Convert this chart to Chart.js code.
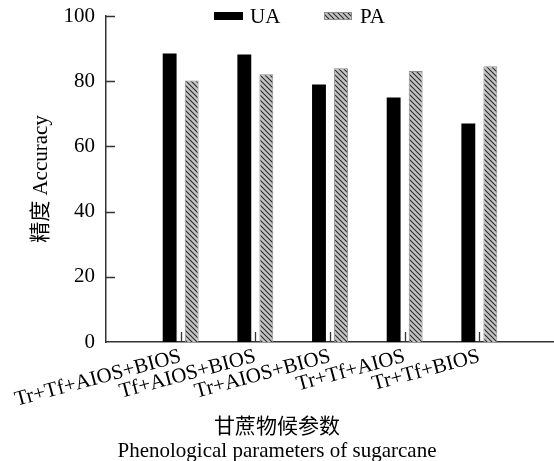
<!DOCTYPE html>
<html>
<head>
<meta charset="utf-8">
<script src="https://cdn.jsdelivr.net/npm/chart.js@4"></script>
<style>
  html, body { margin: 0; padding: 0; background: #fff; }
  #wrap { width: 554px; height: 461px; }
</style>
</head>
<body>
<div id="wrap"><canvas id="chart" width="554" height="461"></canvas></div>
<script>
const categories = ['Tr+Tf+AIOS+BIOS', 'Tf+AIOS+BIOS', 'Tr+AIOS+BIOS', 'Tr+Tf+AIOS', 'Tr+Tf+BIOS'];
const uaValues = [88.5, 88.2, 79.0, 75.0, 67.0];
const paValues = [80.2, 82.1, 84.0, 83.1, 84.6];
const yTicks = [0, 20, 40, 60, 80, 100];

const FONT = "'Liberation Serif', 'Times New Roman', 'Noto Sans CJK SC', serif";

// empty slot at each end so the five groups sit at 1..5 of a 0..6 axis
const labels = ['', ...categories, ''];
const pad = arr => [null, ...arr, null];

function makeHatch() {
  const c = document.createElement('canvas');
  c.width = 5; c.height = 5;
  const g = c.getContext('2d');
  g.fillStyle = '#c4c4c4';
  g.fillRect(0, 0, 5, 5);
  g.strokeStyle = '#2a2a2a';
  g.lineWidth = 1.1;
  g.beginPath();
  g.moveTo(-1, -1); g.lineTo(6, 6);
  g.moveTo(-1, 4); g.lineTo(1, 6);
  g.moveTo(4, -1); g.lineTo(6, 1);
  g.stroke();
  return g.createPattern(c, 'repeat');
}
const hatch = makeHatch();

// inward tick marks + legend drawn by hand
const extras = {
  id: 'extras',
  afterDraw(chart) {
    const ctx = chart.ctx;
    const x = chart.scales.x, y = chart.scales.y;
    const area = chart.chartArea;
    ctx.save();
    ctx.strokeStyle = '#333';
    ctx.lineWidth = 1.3;
    ctx.beginPath();
    yTicks.forEach(v => {
      if (v === 0) return;
      const py = Math.round(y.getPixelForValue(v)) + 0.5;
      ctx.moveTo(area.left, py);
      ctx.lineTo(area.left + 9, py);
    });
    categories.forEach((c, i) => {
      const px = Math.round(x.getPixelForValue(i + 1)) + 0.5;
      ctx.moveTo(px, area.bottom);
      ctx.lineTo(px, area.bottom - 10);
    });
    ctx.stroke();

    // legend
    const lx = area.left + 108, ly = 12;
    ctx.fillStyle = '#000';
    ctx.fillRect(lx, ly, 29, 8);
    ctx.fillStyle = hatch;
    ctx.fillRect(lx + 110, ly, 28, 8);
    ctx.strokeStyle = '#8c8c8c';
    ctx.lineWidth = 1;
    ctx.strokeRect(lx + 110.5, ly + 0.5, 27, 7);
    ctx.fillStyle = '#000';
    ctx.font = '21px ' + FONT;
    ctx.textBaseline = 'middle';
    ctx.textAlign = 'left';
    ctx.fillText('UA', lx + 36, ly + 5);
    ctx.fillText('PA', lx + 146, ly + 5);
    ctx.restore();
  }
};

new Chart(document.getElementById('chart'), {
  type: 'bar',
  data: {
    labels: labels,
    datasets: [
      { label: 'UA', data: pad(uaValues), backgroundColor: '#000', borderWidth: 0 },
      { label: 'PA', data: pad(paValues), backgroundColor: hatch, borderColor: '#8c8c8c', borderWidth: 1 }
    ]
  },
  options: {
    responsive: false,
    animation: false,
    devicePixelRatio: 1,
    categoryPercentage: 0.59,
    barPercentage: 0.63,
    layout: { padding: { left: 0, top: 0, right: 0, bottom: -3 } },
    scales: {
      x: {
        offset: false,
        grid: { display: false, drawTicks: false },
        border: { display: true, color: '#333', width: 1.5 },
        afterFit: s => { s.paddingRight = 0; },
        ticks: {
          autoSkip: false, maxRotation: 15, minRotation: 15,
          color: '#000', font: { family: FONT, size: 21 }, padding: 2
        }
      },
      y: {
        min: 0, max: 100,
        afterBuildTicks: axis => { axis.ticks = yTicks.map(v => ({ value: v })); },
        afterFit: s => { s.width = 106; s.paddingTop = 16; s.paddingBottom = 0; },
        grid: { display: false, drawTicks: false },
        border: { display: true, color: '#333', width: 1.5 },
        ticks: { color: '#000', font: { family: FONT, size: 21 }, padding: 11 },
        title: {
          display: true, text: '精度 Accuracy', color: '#000',
          font: { family: FONT, size: 21 }, padding: { top: 29, bottom: 0 }
        }
      }
    },
    plugins: {
      legend: { display: false },
      tooltip: { enabled: false },
      title: {
        display: true, position: 'bottom',
        text: ['甘蔗物候参数', 'Phenological parameters of sugarcane'],
        color: '#000', font: { family: FONT, size: 21, weight: 'normal', lineHeight: 1.15 },
        padding: { top: 1, bottom: 0 }
      }
    }
  },
  plugins: [extras]
});
</script>
</body>
</html>
